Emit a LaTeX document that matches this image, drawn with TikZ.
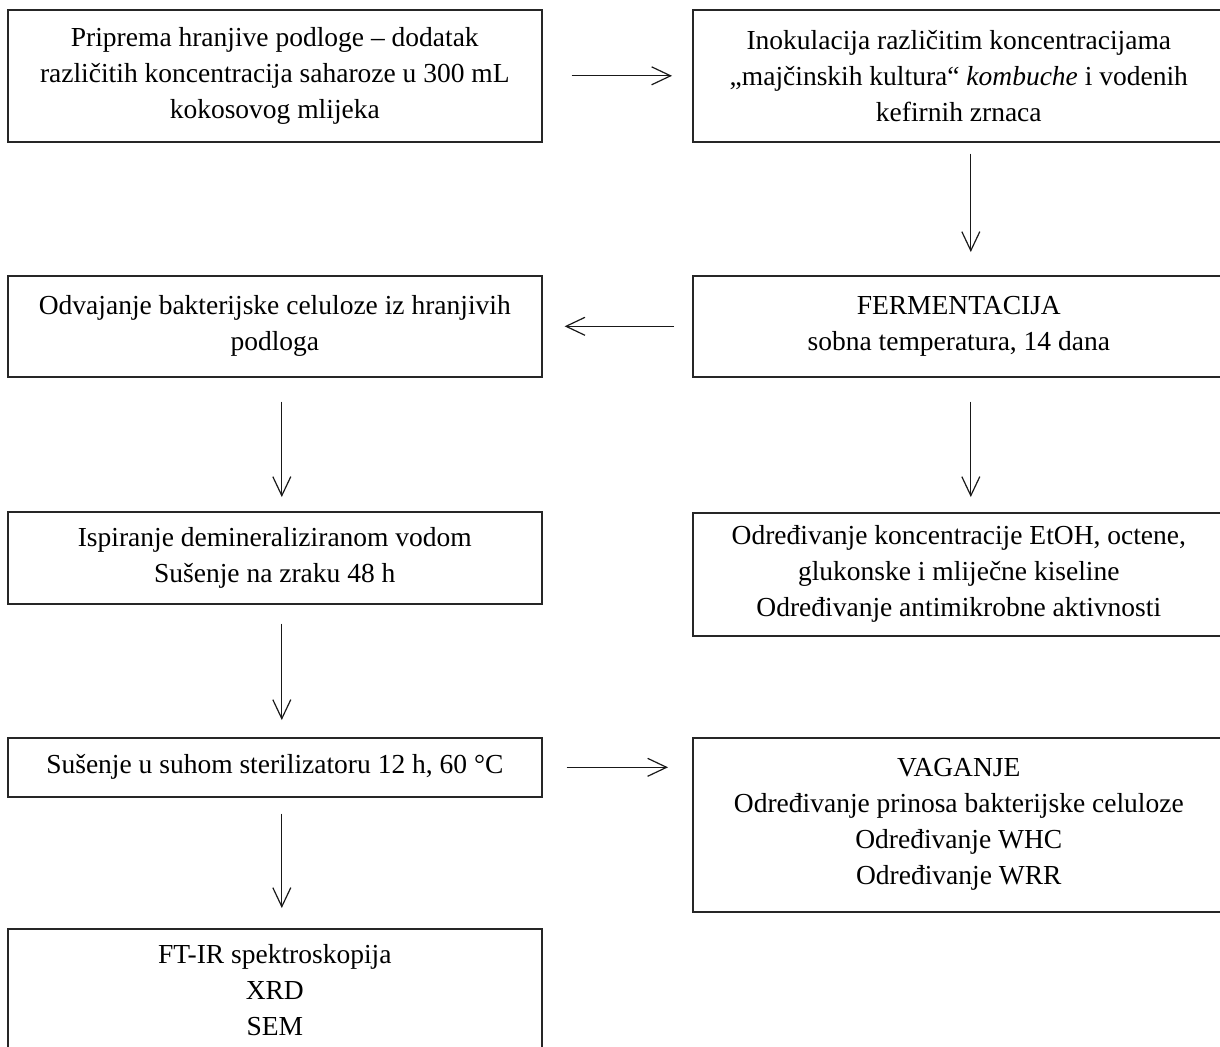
\documentclass[tikz,border=0pt]{standalone}
\usepackage{fontspec}
\setmainfont{Liberation Serif}
\usetikzlibrary{arrows.meta}
\tikzset{
	korak/.style={draw=black!85, line width=0.8pt, rectangle, anchor=north west, align=center, inner sep=0pt, font=\fontsize{13.75}{18}\selectfont},
	strelica/.style={-{Straight Barb[length=9.5pt,width=9pt]}, line width=0.6pt, color=black!90}
}

\begin{document}
\begin{tikzpicture}[x=0.5pt, y=-0.5pt]
		%%%%% START %%%%%
		
		\useasboundingbox (0, 0) rectangle (1220, 1046);
		\clip (0, 0) rectangle (1220, 1046);
		
		\node[korak, minimum width=267pt, minimum height=66pt] (priprema) at (7, 9) {Priprema hranjive podloge – dodatak\\različitih koncentracija saharoze u 300 mL\\kokosovog mlijeka};
		\node[korak, minimum width=266pt, minimum height=66pt] (inokulacija) at (692, 9) {Inokulacija različitim koncentracijama\\„majčinskih kultura“ \textit{kombuche} i vodenih\\kefirnih zrnaca};
		
		\node[korak, minimum width=266pt, minimum height=50.5pt] (fermentacija) at (692, 275) {FERMENTACIJA\\sobna temperatura, 14 dana};
		\node[korak, minimum width=267pt, minimum height=50.5pt] (odvajanje) at (7, 275) {Odvajanje bakterijske celuloze iz hranjivih\\podloga};
		
		\node[korak, minimum width=267pt, minimum height=46pt] (ispiranje) at (7, 511) {Ispiranje demineraliziranom vodom\\Sušenje na zraku 48 h};
		\node[korak, minimum width=266pt, minimum height=61.5pt] (kiseline) at (692, 512) {Određivanje koncentracije EtOH, octene,\\glukonske i mliječne kiseline\\Određivanje antimikrobne aktivnosti};
		
		\node[korak, minimum width=267pt, minimum height=29.5pt] (susenje) at (7, 737) {Sušenje u suhom sterilizatoru 12 h, 60 °C};
		\node[korak, minimum width=266pt, minimum height=87pt] (vaganje) at (692, 737) {VAGANJE\\Određivanje prinosa bakterijske celuloze\\Određivanje WHC\\Određivanje WRR};
		
		\node[korak, minimum width=267pt, minimum height=61pt] (analize) at (7, 928) {FT-IR spektroskopija\\XRD\\SEM};
		
		\draw[strelica, shorten <=14.5pt, shorten >=10pt] (priprema.east) -- (inokulacija.west);
		\draw[strelica, shorten <=5.5pt, shorten >=11.5pt] ([xshift=6pt]inokulacija.south) -- ([xshift=6pt]fermentacija.north);
		\draw[strelica, shorten <=9pt, shorten >=11pt] (fermentacija.west) -- (fermentacija.west -| odvajanje.east);
		\draw[strelica, shorten <=12pt, shorten >=7pt] ([xshift=3.5pt]odvajanje.south) -- ([xshift=3.5pt]ispiranje.north);
		\draw[strelica, shorten <=12pt, shorten >=7.5pt] ([xshift=6pt]fermentacija.south) -- ([xshift=6pt]kiseline.north);
		\draw[strelica, shorten <=9.5pt, shorten >=8.5pt] ([xshift=3.5pt]ispiranje.south) -- ([xshift=3.5pt]susenje.north);
		\draw[strelica, shorten <=12pt, shorten >=12pt] (susenje.east) -- (susenje.east -| vaganje.west);
		\draw[strelica, shorten <=8pt, shorten >=10pt] ([xshift=3.5pt]susenje.south) -- ([xshift=3.5pt]analize.north);
		
		%%%%% END %%%%%
	\end{tikzpicture}
\end{document}
